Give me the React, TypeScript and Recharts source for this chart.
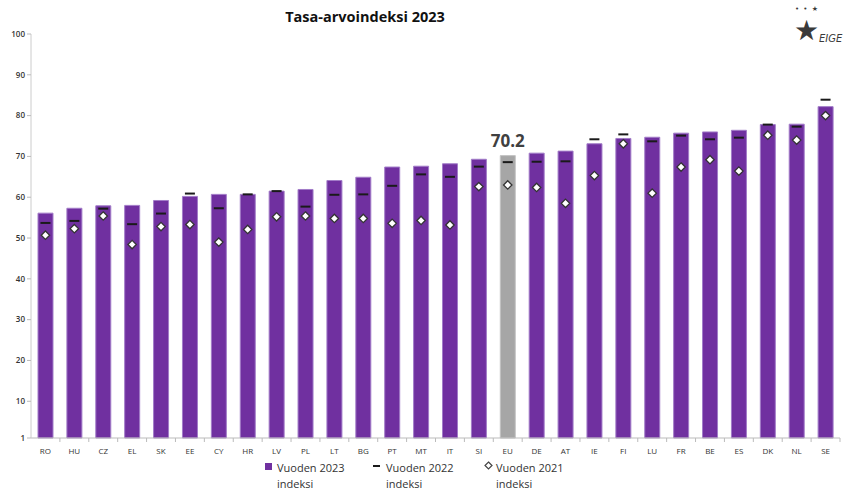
import {
  ComposedChart,
  Bar,
  Line,
  Cell,
  XAxis,
  YAxis,
  LabelList,
} from 'recharts'

const maat = [
  'RO', 'HU', 'CZ', 'EL', 'SK', 'EE', 'CY', 'HR', 'LV', 'PL', 'LT', 'BG', 'PT', 'MT',
  'IT', 'SI', 'EU', 'DE', 'AT', 'IE', 'FI', 'LU', 'FR', 'BE', 'ES', 'DK', 'NL', 'SE',
]
const indeksi2023 = [
  56.1, 57.3, 57.9, 58.0, 59.2, 60.2, 60.7, 60.7, 61.5, 61.9, 64.1, 64.9, 67.4, 67.6,
  68.2, 69.3, 70.2, 70.8, 71.3, 73.1, 74.4, 74.7, 75.7, 76.0, 76.4, 77.8, 77.9, 82.2,
]
const indeksi2022 = [
  53.7, 54.2, 57.2, 53.4, 56.0, 60.9, 57.3, 60.7, 61.5, 57.7, 60.6, 60.7, 62.8, 65.6,
  65.0, 67.5, 68.6, 68.7, 68.8, 74.2, 75.4, 73.7, 75.1, 74.2, 74.6, 77.8, 77.3, 83.9,
]
const indeksi2021 = [
  50.7, 52.3, 55.4, 48.4, 52.8, 53.3, 49.0, 52.1, 55.2, 55.4, 54.8, 54.8, 53.6, 54.3,
  53.2, 62.6, 63.0, 62.4, 58.5, 65.3, 73.1, 61.0, 67.4, 69.2, 66.4, 75.2, 74.0, 80.0,
]
const yTicks = [1, 10, 20, 30, 40, 50, 60, 70, 80, 90, 100]

const VIOLETTI = '#7030a0'
const HARMAA = '#a6a6a6'
const FONTTI = '"Open Sans", sans-serif'

const data = maat.map((maa, i) => ({
  maa,
  i2023: indeksi2023[i],
  i2022: indeksi2022[i],
  i2021: indeksi2021[i],
}))

const Viiva = (props: any) => {
  const { cx, cy, index } = props
  if (cx == null || cy == null) return <g key={`v${index}`} />
  return (
    <line key={`v${index}`} x1={cx - 5} x2={cx + 5} y1={cy} y2={cy} stroke="#1a1a1a" strokeWidth={2} />
  )
}

const Salmiakki = (props: any) => {
  const { cx, cy, index } = props
  if (cx == null || cy == null) return <g key={`s${index}`} />
  const r = 4.2
  return (
    <polygon
      key={`s${index}`}
      points={`${cx},${cy - r} ${cx + r},${cy} ${cx},${cy + r} ${cx - r},${cy}`}
      fill="#fff"
      stroke="#333"
      strokeWidth={1.3}
    />
  )
}

const XTick = (props: any) => {
  const { x, y, payload } = props
  const puoli = payload?.offset || 14.45
  return (
    <g>
      <line x1={x + puoli} x2={x + puoli} y1={y - 8} y2={y - 4} stroke="#bbb" />
      <text x={x} y={y + 8} textAnchor="middle" fontSize={8} fill="#333" fontFamily={FONTTI}>
        {payload.value}
      </text>
    </g>
  )
}

const EuLabel = (props: any) => {
  const { x, y, width, index, value } = props
  if (maat[index] !== 'EU') return null
  return (
    <text
      x={x + width / 2}
      y={y - 9}
      textAnchor="middle"
      fontSize={17}
      fontWeight={700}
      fill="#404040"
      fontFamily={FONTTI}
    >
      {value}
    </text>
  )
}

function Selite() {
  const teksti: React.CSSProperties = {
    fontSize: 11,
    lineHeight: '16px',
    color: '#333',
    fontFamily: FONTTI,
  }
  return (
    <div style={{ position: 'absolute', left: 0, top: 460, width: 845, height: 32 }}>
      <div style={{ position: 'absolute', left: 265, top: 3, width: 7, height: 7, background: VIOLETTI }} />
      <div style={{ position: 'absolute', left: 277, top: 0, ...teksti }}>
        Vuoden 2023
        <br />
        indeksi
      </div>
      <div style={{ position: 'absolute', left: 373, top: 5, width: 7, height: 2, background: '#1a1a1a' }} />
      <div style={{ position: 'absolute', left: 386, top: 0, ...teksti }}>
        Vuoden 2022
        <br />
        indeksi
      </div>
      <svg style={{ position: 'absolute', left: 484, top: 1 }} width={9} height={9}>
        <polygon points="4.5,1 8,4.5 4.5,8 1,4.5" fill="#fff" stroke="#444" strokeWidth={1.2} />
      </svg>
      <div style={{ position: 'absolute', left: 496, top: 0, ...teksti }}>
        Vuoden 2021
        <br />
        indeksi
      </div>
    </div>
  )
}

function Logo() {
  const perus: React.CSSProperties = {
    position: 'absolute',
    color: '#3a3a3a',
    fontFamily: '"DejaVu Sans", sans-serif',
    lineHeight: 1,
    whiteSpace: 'nowrap',
  }
  return (
    <>
      <div style={{ ...perus, left: 795, top: 6, fontSize: 7, letterSpacing: 1 }}>• • ★</div>
      <div style={{ ...perus, left: 794, top: 17, fontSize: 28 }}>★</div>
      <div style={{ ...perus, left: 819, top: 34, fontSize: 10, fontStyle: 'italic' }}>EIGE</div>
    </>
  )
}

export default function App() {
  return (
    <div style={{ position: 'absolute', left: 0, top: 0, width: 845, height: 491, background: '#fff' }}>
      <div
        style={{
          position: 'absolute',
          left: 0,
          width: 730,
          top: 7,
          textAlign: 'center',
          fontFamily: FONTTI,
          fontWeight: 700,
          fontSize: 14.5,
          color: '#111',
        }}
      >
        Tasa-arvoindeksi 2023
      </div>
      <Logo />
      <ComposedChart
        width={845}
        height={491}
        data={data}
        margin={{ top: 34, right: 5, bottom: 33, left: 0 }}
        barCategoryGap="48%"
      >
        <XAxis
          dataKey="maa"
          height={20}
          tick={<XTick />}
          tickLine={false}
          axisLine={{ stroke: '#bbb' }}
          interval={0}
        />
        <YAxis
          width={31}
          domain={[1, 100]}
          ticks={yTicks}
          interval={0}
          tick={{ fontSize: 8, fill: '#333', fontWeight: 600, fontFamily: FONTTI }}
          tickLine={{ stroke: '#bbb' }}
          tickSize={4}
          axisLine={{ stroke: '#ccc' }}
        />
        <Bar dataKey="i2023" barSize={15} stroke="#a27cc8" strokeWidth={1} isAnimationActive={false}>
          {data.map((d) => (
            <Cell
              key={d.maa}
              fill={d.maa === 'EU' ? HARMAA : VIOLETTI}
              stroke={d.maa === 'EU' ? '#c4c4c4' : '#a27cc8'}
            />
          ))}
          <LabelList dataKey="i2023" content={<EuLabel />} />
        </Bar>
        <Line
          dataKey="i2022"
          stroke="none"
          dot={Viiva}
          activeDot={false}
          isAnimationActive={false}
        />
        <Line
          dataKey="i2021"
          stroke="none"
          dot={Salmiakki}
          activeDot={false}
          isAnimationActive={false}
        />
      </ComposedChart>
      <Selite />
    </div>
  )
}
